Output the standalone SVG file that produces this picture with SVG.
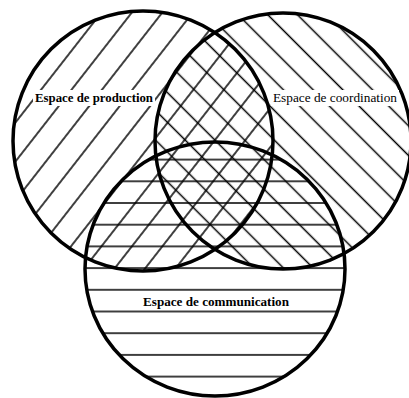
<svg xmlns="http://www.w3.org/2000/svg" width="409" height="398" viewBox="0 0 409 398">
  <style>
    .hatch { stroke: #000; stroke-width: 1.5; }
    .ring { stroke: #000; stroke-width: 3.5; }
    .lblbg { fill: #fff; }
    .lbl { font-family: "Liberation Serif", "Times New Roman", serif; font-size: 13px; fill: #000; }
    .bold { font-weight: bold; }
  </style>
  <defs>
    <pattern id="hatchProd" patternUnits="userSpaceOnUse" x="0" y="3.6" width="10" height="24" patternTransform="rotate(-52)">
      <line class="hatch" x1="-1" y1="12" x2="11" y2="12"/>
    </pattern>
    <pattern id="hatchCoord" patternUnits="userSpaceOnUse" x="0" y="-0.4" width="10" height="21" patternTransform="rotate(45)">
      <line class="hatch" x1="-1" y1="10.5" x2="11" y2="10.5"/>
    </pattern>
    <pattern id="hatchComm" patternUnits="userSpaceOnUse" x="0" y="18.55" width="10" height="21.7">
      <line class="hatch" x1="-1" y1="10.85" x2="11" y2="10.85"/>
    </pattern>
  </defs>
  <rect width="409" height="398" fill="#fff"/>

  <g id="connectors"></g>

  <g id="production">
    <circle cx="143" cy="141" r="130" fill="url(#hatchProd)"/>
  </g>
  <g id="coordination">
    <circle cx="283" cy="141" r="128" fill="url(#hatchCoord)"/>
  </g>
  <g id="communication">
    <ellipse cx="215" cy="269" rx="130" ry="127" fill="url(#hatchComm)"/>
  </g>

  <g id="outlines" fill="none">
    <circle class="ring" cx="143" cy="141" r="130"/>
    <circle class="ring" cx="283" cy="141" r="128"/>
    <ellipse class="ring" cx="215" cy="269" rx="130" ry="127"/>
  </g>

  <g id="labels">
    <g id="label-production">
      <rect class="lblbg" x="33" y="90" width="122" height="16"/>
      <text class="lbl bold" x="35" y="102" textLength="118" lengthAdjust="spacingAndGlyphs">Espace de production</text>
    </g>
    <g id="label-coordination">
      <rect class="lblbg" x="271" y="90" width="128" height="16"/>
      <text class="lbl" x="273" y="102" textLength="124" lengthAdjust="spacingAndGlyphs">Espace de coordination</text>
    </g>
    <g id="label-communication">
      <rect class="lblbg" x="141" y="293" width="150" height="16"/>
      <text class="lbl bold" x="143" y="306" textLength="146" lengthAdjust="spacingAndGlyphs">Espace de communication</text>
    </g>
  </g>
</svg>
